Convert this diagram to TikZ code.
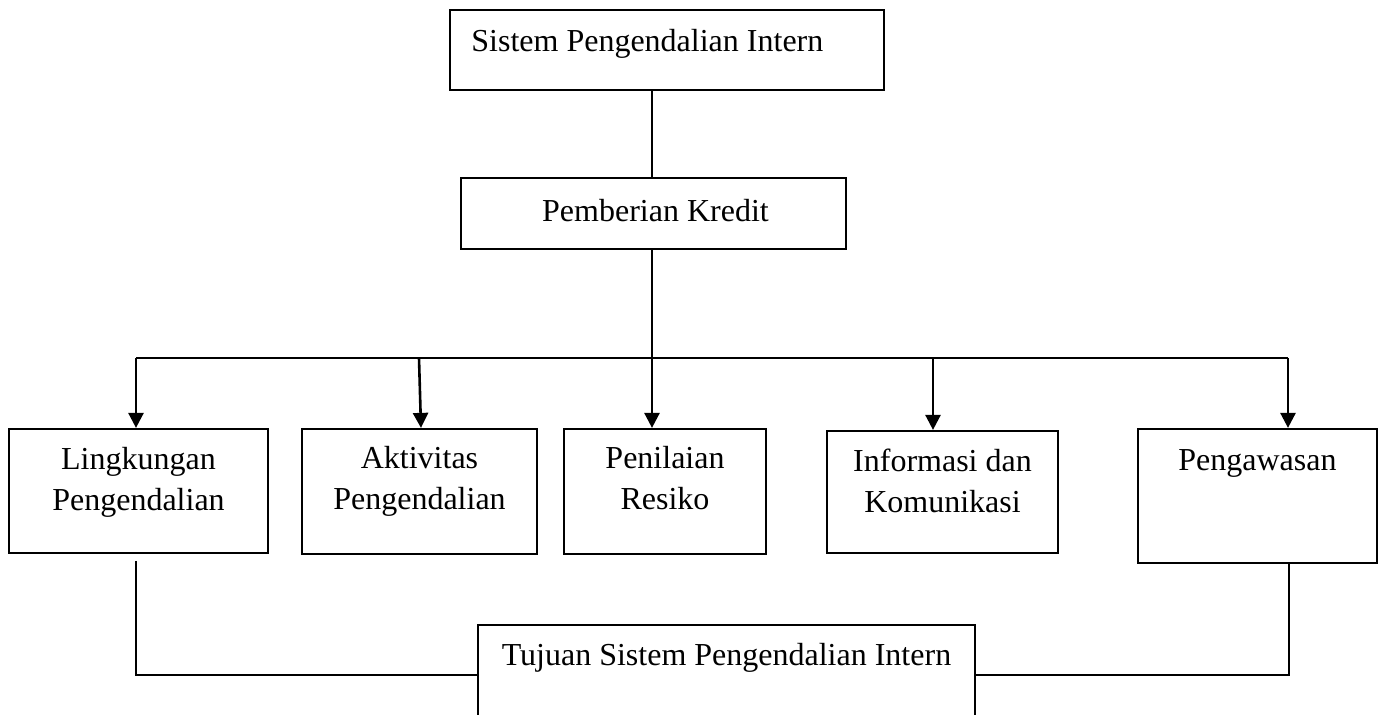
\documentclass[tikz,border=0pt]{standalone}
\usepackage{fontspec}
\setmainfont{Liberation Serif}
\usetikzlibrary{arrows.meta,calc}
\begin{document}
\begin{tikzpicture}[x=0.5pt,y=-0.5pt,
  box/.style={draw=black,line width=1.1pt,rectangle,inner sep=0pt},
  txt/.style={inner sep=0pt,font=\fontsize{16}{20.5}\selectfont,align=center},
  conn/.style={draw=black,line width=0.85pt},
  arr/.style={draw=black,line width=1.3pt,-{Triangle[width=7.5pt,length=7.5pt]}}]
\path[use as bounding box] (0,0) rectangle (1383,715);
\clip (0,0) rectangle (1383,715);
% boxes
\node[box,minimum width=217pt,minimum height=40pt] (top) at (667,50) {};
\node[box,minimum width=192.5pt,minimum height=35.5pt] (pk) at (653.5,213.5) {};
\node[box,minimum width=129.5pt,minimum height=62pt] (lk) at (138.5,491) {};
\node[box,minimum width=117.5pt,minimum height=62.5pt] (ak) at (419.5,491.5) {};
\node[box,minimum width=101pt,minimum height=62.5pt] (pr) at (665,491.5) {};
\node[box,minimum width=115.5pt,minimum height=61pt] (inf) at (942.5,492) {};
\node[box,minimum width=119.5pt,minimum height=67pt] (pg) at (1257.5,496) {};
\node[box,minimum width=248.5pt,minimum height=50pt] (tj) at (726.5,675) {};
% texts
\node[txt,anchor=base west] (topt) at (471,52) {Sistem Pengendalian Intern};
\node[txt,anchor=base] (pkt) at (655.5,222) {Pemberian Kredit};
\node[txt,anchor=base] (lkt) at (138.5,511) {Lingkungan\\Pengendalian};
\node[txt,anchor=base] (akt) at (419.5,510) {Aktivitas\\Pengendalian};
\node[txt,anchor=base] (prt) at (665,510) {Penilaian\\Resiko};
\node[txt,anchor=base] (inft) at (942.5,513) {Informasi dan\\Komunikasi};
\node[txt,anchor=base] (pgt) at (1257.5,471) {Pengawasan};
\node[txt,anchor=base] (tjt) at (726.5,666) {Tujuan Sistem Pengendalian Intern};
% connectors
\coordinate (b1) at (136,358);
\coordinate (b2) at (419,358);
\coordinate (b3) at (652,358);
\coordinate (b4) at (933,358);
\coordinate (b5) at (1288,358);
\draw[conn] (b3 |- top.south) -- (b3 |- pk.north);
\draw[conn] (b3 |- pk.south) -- (b3);
\draw[conn] (b1) -- (b5);
\draw[arr] (b1) -- (b1 |- lk.north);
\draw[arr] (b2) -- ($(ak.north)+(1.5,0)$);
\draw[arr] (b3) -- (b3 |- pr.north);
\draw[arr] (b4) -- (b4 |- inf.north);
\draw[arr] (b5) -- (b5 |- pg.north);
\coordinate (c1) at (136,561);
\coordinate (c5) at (1289,563);
\draw[conn] (c1) |- (tj.west);
\draw[conn] (c5 |- pg.south) |- (tj.east);
\end{tikzpicture}
\end{document}
